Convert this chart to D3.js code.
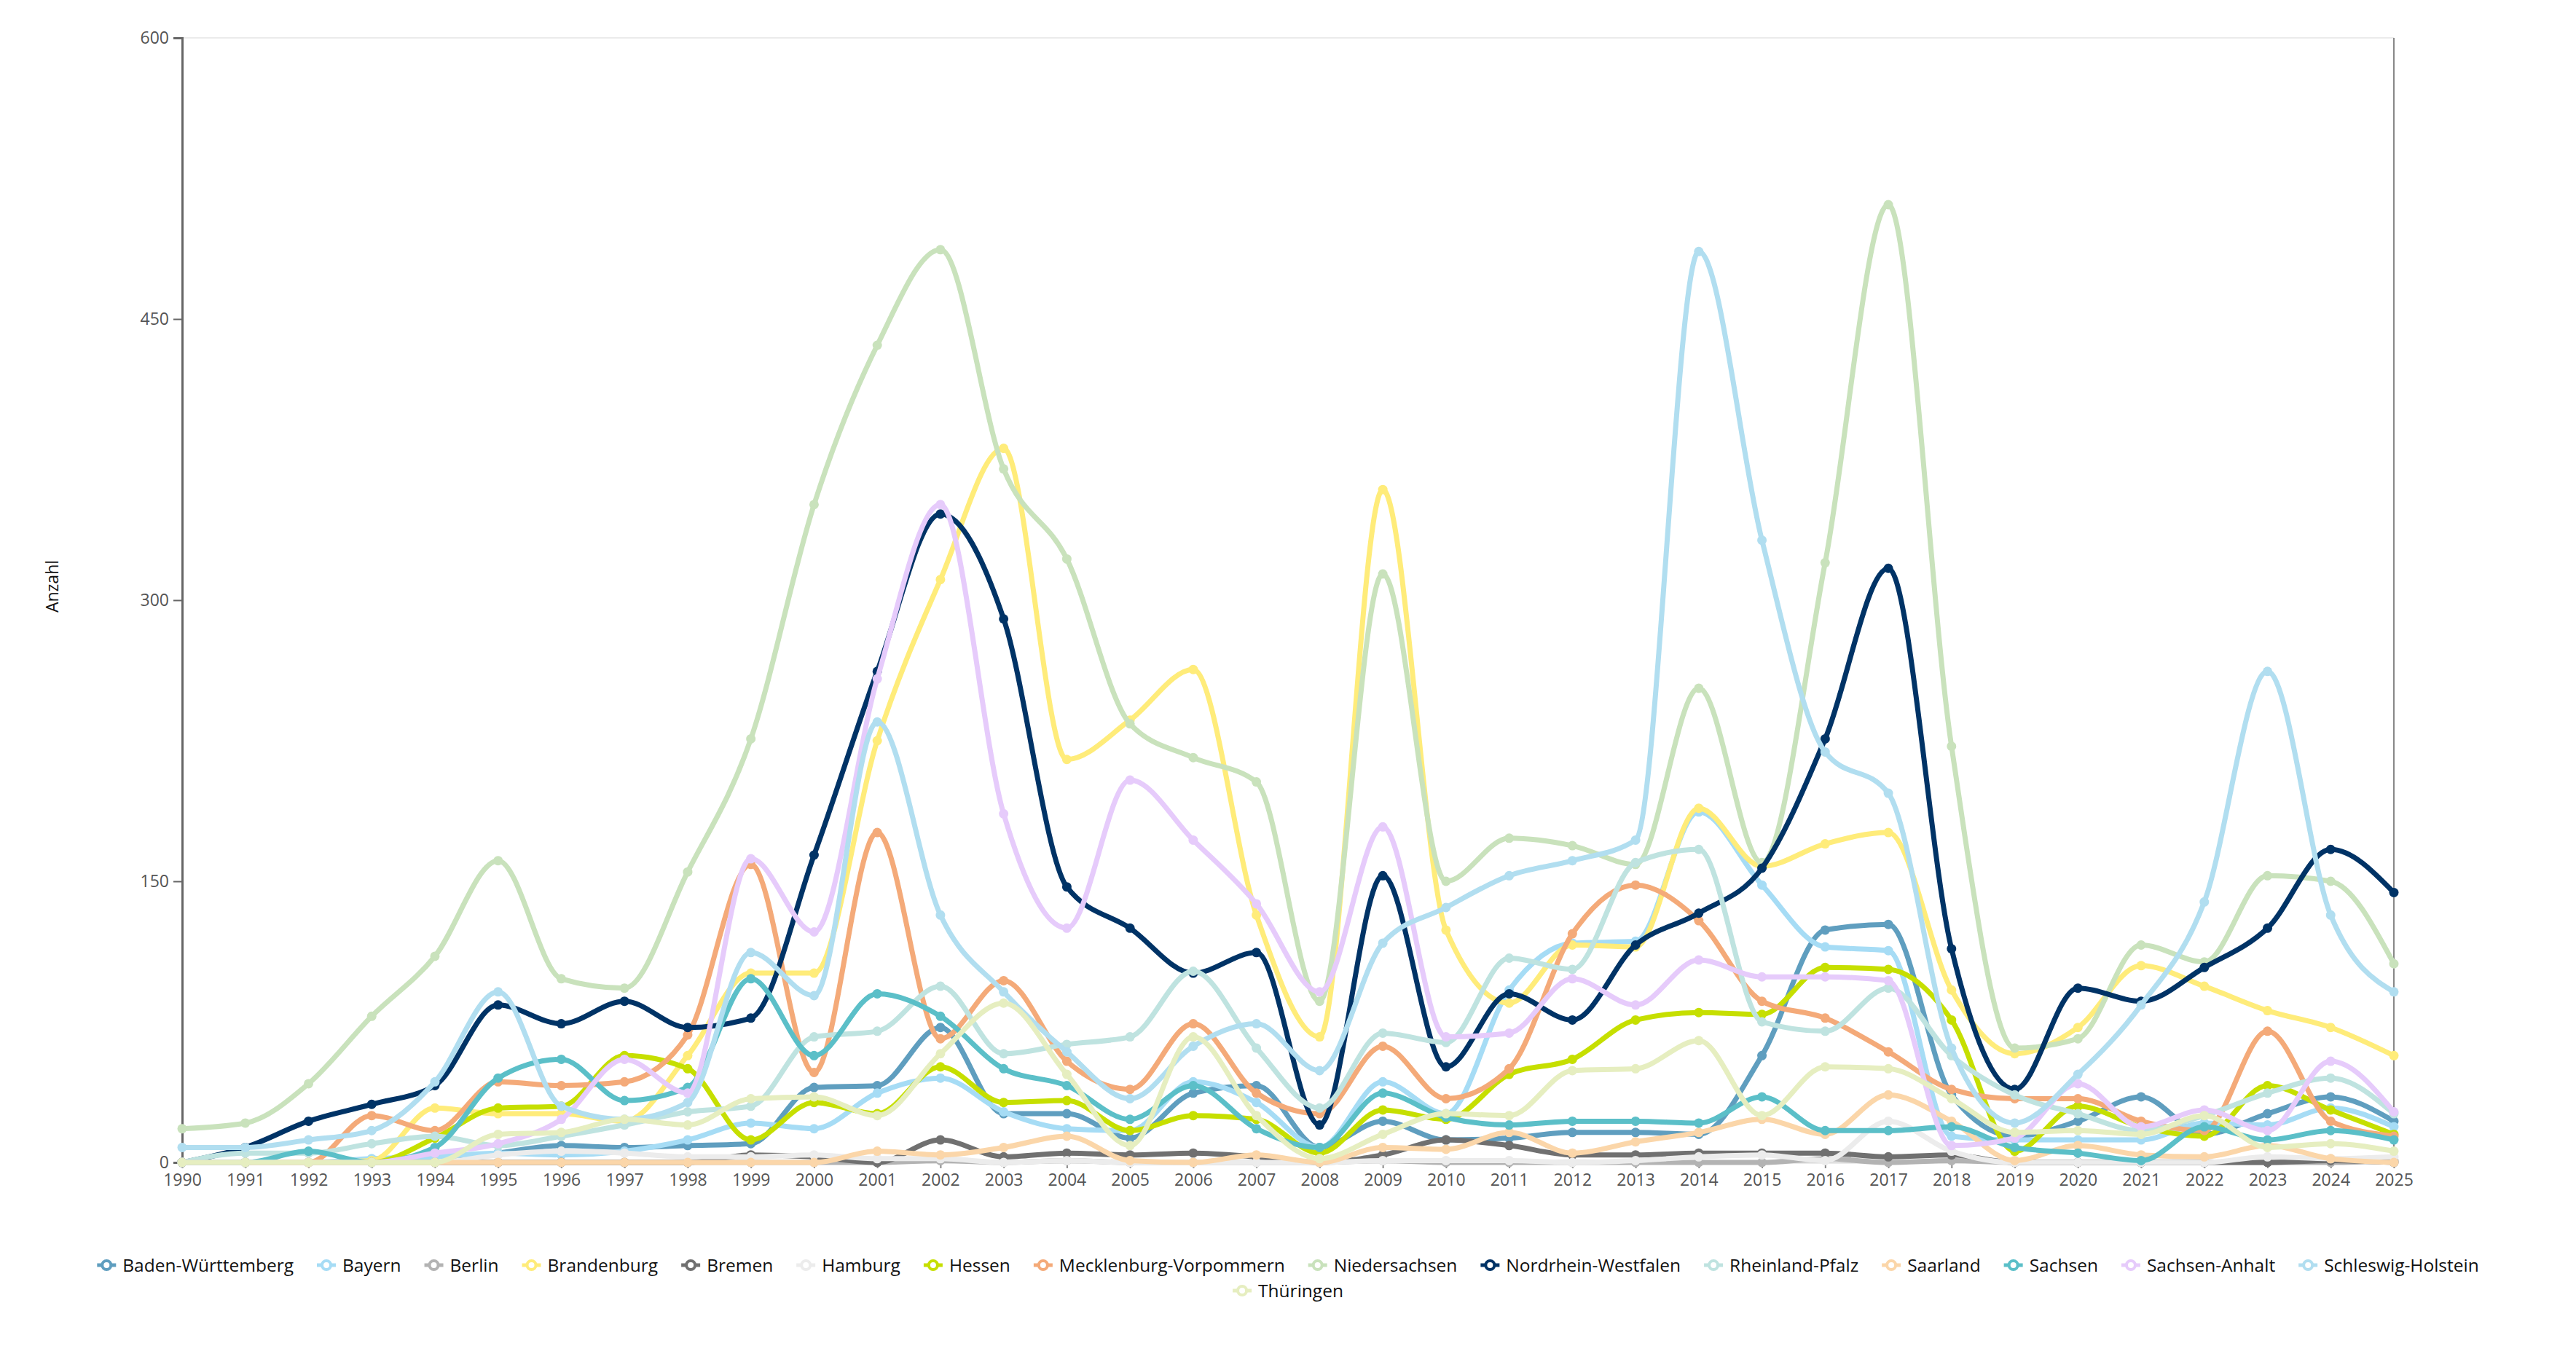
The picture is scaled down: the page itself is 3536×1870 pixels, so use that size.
<!DOCTYPE html>
<html>
<head>
<meta charset="utf-8">
<script src="https://cdn.jsdelivr.net/npm/d3@7"></script>
<style>
  html, body { margin: 0; padding: 0; background: #fff; overflow: hidden; }
  svg { display: block; }
  text { font-family: "Open Sans", sans-serif; }
</style>
</head>
<body>
<div id="chart"></div>
<script>
// Years on the x axis
var years = [1990, 1991, 1992, 1993, 1994, 1995, 1996, 1997, 1998, 1999,
             2000, 2001, 2002, 2003, 2004, 2005, 2006, 2007, 2008, 2009,
             2010, 2011, 2012, 2013, 2014, 2015, 2016, 2017, 2018, 2019,
             2020, 2021, 2022, 2023, 2024, 2025];

var yTicks = [0, 150, 300, 450, 600];

// Series names and colours (legend order)
var states = ["Baden-Württemberg", "Bayern", "Berlin", "Brandenburg", "Bremen", "Hamburg",
              "Hessen", "Mecklenburg-Vorpommern", "Niedersachsen", "Nordrhein-Westfalen",
              "Rheinland-Pfalz", "Saarland", "Sachsen", "Sachsen-Anhalt", "Schleswig-Holstein",
              "Thüringen"];

var colors = ["#5f9ebf", "#a6dcf5", "#b3b3b3", "#ffec7a", "#707070", "#ececec",
              "#c6df00", "#f4aa79", "#c9e2bc", "#003366",
              "#bfe3e0", "#fbd6a9", "#5bbfc8", "#e6cbfb", "#b1def0",
              "#e6eec0"];

// Values per state, 1990-2025
var badenWuerttemberg = [0, 0, 0, 0, 0, 5, 9, 8, 9, 10, 40, 41, 72, 26, 26, 13, 37, 41, 8, 22, 12, 13, 16, 16, 15, 57, 124, 127, 36, 14, 22, 35, 15, 26, 35, 22];
var bayern = [0, 0, 0, 2, 3, 5, 4, 6, 12, 21, 18, 37, 45, 27, 18, 17, 43, 32, 8, 43, 26, 92, 117, 118, 187, 148, 115, 113, 14, 12, 12, 12, 21, 20, 29, 19];
var berlin = [0, 0, 0, 0, 0, 0, 0, 0, 0, 0, 0, 0, 1, 0, 1, 0, 0, 0, 0, 1, 0, 0, 0, 0, 0, 0, 2, 0, 1, 0, 0, 0, 0, 0, 0, 1];
var brandenburg = [0, 0, 0, 1, 29, 26, 26, 22, 57, 101, 101, 225, 311, 381, 215, 236, 263, 132, 67, 359, 124, 85, 116, 115, 189, 158, 170, 176, 92, 58, 72, 105, 94, 81, 72, 57];
var bremen = [0, 0, 0, 0, 0, 0, 0, 0, 0, 4, 3, 0, 12, 3, 5, 4, 5, 3, 0, 4, 12, 9, 4, 4, 5, 5, 5, 3, 4, 0, 0, 0, 0, 0, 1, 0];
var hamburg = [0, 0, 0, 0, 0, 4, 6, 5, 3, 3, 4, 2, 2, 0, 1, 0, 0, 0, 0, 1, 1, 1, 0, 1, 3, 4, 1, 22, 6, 0, 0, 0, 0, 3, 2, 3];
var hessen = [0, 0, 0, 0, 13, 29, 30, 57, 50, 12, 32, 26, 51, 32, 33, 17, 25, 23, 5, 28, 23, 47, 55, 76, 80, 79, 104, 103, 76, 6, 30, 19, 14, 41, 28, 15];
var mecklenburgVorpommern = [0, 0, 0, 25, 17, 43, 41, 43, 68, 159, 48, 176, 66, 97, 54, 39, 74, 37, 26, 62, 34, 50, 122, 148, 129, 86, 77, 59, 39, 34, 34, 22, 17, 70, 22, 14];
var niedersachsen = [18, 21, 42, 78, 110, 161, 98, 93, 155, 226, 351, 436, 487, 370, 322, 234, 216, 203, 86, 314, 150, 173, 169, 159, 253, 160, 320, 511, 222, 61, 66, 116, 107, 153, 150, 106];
var nordrheinWestfalen = [0, 8, 22, 31, 41, 84, 74, 86, 72, 77, 164, 262, 346, 290, 147, 125, 101, 112, 20, 153, 51, 90, 76, 116, 133, 157, 226, 317, 114, 39, 93, 86, 104, 125, 167, 144];
var rheinlandPfalz = [0, 5, 5, 10, 14, 9, 14, 20, 27, 30, 67, 70, 94, 58, 63, 67, 102, 61, 29, 69, 64, 109, 103, 160, 167, 75, 70, 93, 57, 36, 26, 17, 25, 37, 45, 26];
var saarland = [0, 0, 0, 0, 0, 0, 0, 0, 0, 0, 0, 6, 4, 8, 14, 1, 0, 4, 0, 8, 7, 16, 5, 11, 16, 23, 15, 36, 22, 1, 9, 4, 3, 9, 2, 0];
var sachsen = [0, 0, 6, 0, 8, 45, 55, 33, 40, 98, 57, 90, 78, 50, 41, 23, 41, 18, 8, 37, 24, 20, 22, 22, 21, 35, 17, 17, 19, 8, 5, 1, 19, 12, 17, 12];
var sachsenAnhalt = [0, 0, 0, 0, 5, 10, 23, 55, 37, 162, 123, 258, 351, 186, 125, 204, 172, 138, 91, 179, 67, 69, 98, 84, 108, 99, 99, 97, 9, 13, 42, 19, 28, 17, 54, 27];
var schleswigHolstein = [8, 8, 12, 17, 43, 91, 30, 23, 32, 112, 89, 235, 132, 91, 59, 34, 62, 74, 49, 117, 136, 153, 161, 172, 486, 332, 219, 197, 61, 21, 47, 84, 139, 262, 132, 91];
var thueringen = [0, 0, 0, 0, 0, 15, 16, 23, 20, 34, 35, 25, 58, 85, 47, 9, 67, 25, 2, 15, 26, 25, 49, 50, 65, 25, 51, 50, 34, 16, 17, 15, 25, 8, 10, 6];

var values = [badenWuerttemberg, bayern, berlin, brandenburg, bremen, hamburg,
              hessen, mecklenburgVorpommern, niedersachsen, nordrheinWestfalen,
              rheinlandPfalz, saarland, sachsen, sachsenAnhalt, schleswigHolstein,
              thueringen];

// Chart size
var width = 3536;
var height = 1870;
var margin = { top: 52, right: 250, bottom: 274, left: 250 };
var innerWidth = width - margin.left - margin.right;
var innerHeight = height - margin.top - margin.bottom;

var svg = d3.select("#chart")
  .append("svg")
  .attr("width", width)
  .attr("height", height);

var chartGroup = svg.append("g")
  .attr("transform", "translate(" + margin.left + "," + margin.top + ")");

var xScale = d3.scaleLinear()
  .domain([years[0], years[years.length - 1]])
  .range([0, innerWidth]);

var yScale = d3.scaleLinear()
  .domain([0, 600])
  .range([innerHeight, 0]);

// top grid line
chartGroup.append("line")
  .attr("x1", 0).attr("x2", innerWidth)
  .attr("y1", yScale(600)).attr("y2", yScale(600))
  .attr("stroke", "#ebebeb")
  .attr("stroke-width", 2);

// vertical line at the last year
chartGroup.append("line")
  .attr("x1", xScale(2025)).attr("x2", xScale(2025))
  .attr("y1", 0).attr("y2", innerHeight)
  .attr("stroke", "#888")
  .attr("stroke-width", 2);

// x axis
var xAxis = chartGroup.append("g")
  .attr("transform", "translate(0," + innerHeight + ")")
  .call(d3.axisBottom(xScale).tickValues(years).tickFormat(d3.format("d")).tickSize(8).tickPadding(8));
xAxis.select(".domain").attr("stroke", "#d8d8d8").attr("stroke-width", 2);
xAxis.selectAll(".tick line").attr("stroke", "#888").attr("stroke-width", 2);
xAxis.selectAll(".tick text")
  .attr("fill", "#555")
  .style("font-size", "23px");

// y axis
var yAxis = chartGroup.append("g")
  .call(d3.axisLeft(yScale).tickValues(yTicks).tickSize(12).tickPadding(6));
yAxis.select(".domain").attr("stroke", "#666").attr("stroke-width", 3);
yAxis.selectAll(".tick line").attr("stroke", "#666").attr("stroke-width", 2);
yAxis.selectAll(".tick text")
  .attr("fill", "#555")
  .style("font-size", "23px");

// y axis label
svg.append("text")
  .attr("transform", "translate(80,805) rotate(-90)")
  .attr("text-anchor", "middle")
  .style("font-size", "23px")
  .attr("fill", "#111")
  .text("Anzahl");

var line = d3.line()
  .x(function (d, i) { return xScale(years[i]); })
  .y(function (d) { return yScale(d); })
  .curve(d3.curveMonotoneX);

// series
states.forEach(function (name, k) {
  var g = chartGroup.append("g");
  g.append("path")
    .datum(values[k])
    .attr("d", line)
    .attr("fill", "none")
    .attr("stroke", colors[k])
    .attr("stroke-width", 7)
    .attr("stroke-linejoin", "round")
    .attr("stroke-linecap", "round");
  g.selectAll("circle")
    .data(values[k])
    .enter()
    .append("circle")
    .attr("cx", function (d, i) { return xScale(years[i]); })
    .attr("cy", function (d) { return yScale(d); })
    .attr("r", 6.5)
    .attr("fill", colors[k]);
});

// Legend
var legend = svg.append("g");
var items = [];
states.forEach(function (name, k) {
  var item = legend.append("g");
  item.append("line")
    .attr("x1", -13).attr("x2", 13)
    .attr("y1", 0).attr("y2", 0)
    .attr("stroke", colors[k])
    .attr("stroke-width", 5);
  item.append("circle")
    .attr("r", 6)
    .attr("fill", "#fff")
    .attr("stroke", colors[k])
    .attr("stroke-width", 4);
  var t = item.append("text")
    .attr("x", 22)
    .attr("dy", "0.35em")
    .style("font-size", "24.5px")
    .attr("fill", "#111")
    .text(name);
  var w = 13 + 22 + t.node().getComputedTextLength() + 32;
  items.push({ node: item, w: w });
});

var maxRow = 3320;
var rows = [[]];
var rowW = [0];
items.forEach(function (it) {
  var r = rows.length - 1;
  if (rowW[r] + it.w > maxRow && rows[r].length) {
    rows.push([]);
    rowW.push(0);
    r++;
  }
  rows[r].push(it);
  rowW[r] += it.w;
});
rows.forEach(function (row, r) {
  var x = (width - (rowW[r] - 32)) / 2 + 13;
  row.forEach(function (it) {
    it.node.attr("transform", "translate(" + x + "," + (1737 + r * 35) + ")");
    x += it.w;
  });
});
</script>
</body>
</html>
